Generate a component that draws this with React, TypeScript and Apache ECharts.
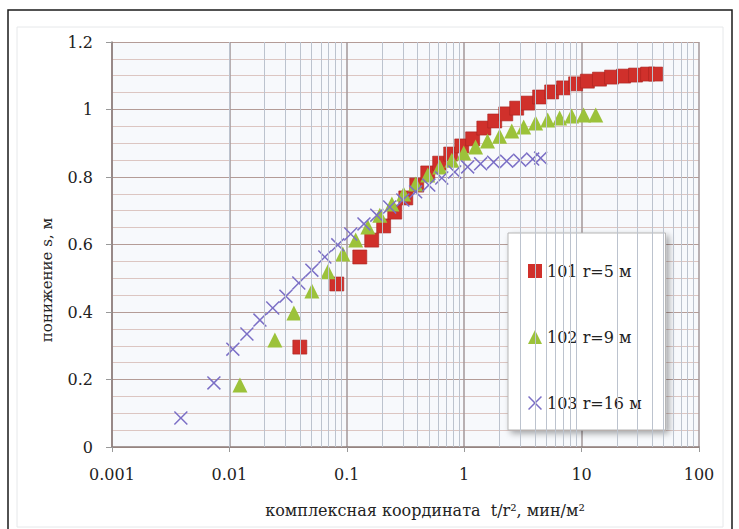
import React, { useEffect, useRef } from "react";
import * as echarts from "echarts";

const FONT = "'DejaVu Serif', 'Liberation Serif', serif";

// axis ranges
const xDecades = [0.001, 0.01, 0.1, 1, 10, 100];
const xMinorMultipliers = [2, 3, 4, 5, 6, 7, 8, 9];
const yMin = 0;
const yMax = 1.2;
const yStep = 0.2;

const seriesNames = ["101 r=5 м", "102 r=9 м", "103 r=16 м"];

// 101 r=5 m (red squares)
const s101x = [0.0398, 0.0822, 0.129, 0.163, 0.206, 0.256, 0.318, 0.394, 0.489, 0.618, 0.767, 0.953, 1.18, 1.47, 1.82, 2.26, 2.8, 3.47, 4.39, 5.56, 7.03, 8.89, 11.2, 14.2, 18.0, 22.8, 28.8, 36.5, 42.7];
const s101y = [0.296, 0.483, 0.563, 0.613, 0.655, 0.696, 0.738, 0.776, 0.812, 0.841, 0.868, 0.892, 0.913, 0.945, 0.966, 0.987, 1.004, 1.019, 1.037, 1.052, 1.064, 1.076, 1.084, 1.09, 1.096, 1.099, 1.102, 1.105, 1.105];

// 102 r=9 m (green triangles)
const s102x = [0.0123, 0.0244, 0.0354, 0.0504, 0.0689, 0.0925, 0.119, 0.151, 0.191, 0.242, 0.305, 0.386, 0.489, 0.618, 0.784, 0.991, 1.25, 1.58, 2.0, 2.54, 3.21, 4.06, 5.14, 6.5, 8.22, 10.4, 13.2];
const s102y = [0.184, 0.317, 0.397, 0.462, 0.519, 0.572, 0.613, 0.652, 0.687, 0.72, 0.75, 0.779, 0.806, 0.83, 0.85, 0.871, 0.889, 0.907, 0.921, 0.936, 0.948, 0.96, 0.969, 0.975, 0.981, 0.984, 0.984];

// 103 r=16 m (purple crosses)
const s103x = [0.00386, 0.00738, 0.0107, 0.0141, 0.0182, 0.0234, 0.0303, 0.039, 0.0504, 0.065, 0.0838, 0.108, 0.14, 0.18, 0.232, 0.3, 0.386, 0.499, 0.644, 0.83, 1.07, 1.38, 1.78, 2.3, 2.97, 3.83, 4.48];
const s103y = [0.086, 0.19, 0.29, 0.335, 0.376, 0.412, 0.447, 0.486, 0.524, 0.563, 0.599, 0.631, 0.661, 0.687, 0.711, 0.732, 0.756, 0.776, 0.797, 0.815, 0.83, 0.839, 0.844, 0.847, 0.85, 0.853, 0.856];

const zip = (xs: number[], ys: number[]) => xs.map((x, i) => [x, ys[i]]);

const CROSS =
  "path://M0,1.5L1.5,0L10,8.5L18.5,0L20,1.5L11.5,10L20,18.5L18.5,20L10,11.5L1.5,20L0,18.5L8.5,10Z";

export default function App() {
  const ref = useRef<HTMLDivElement>(null);

  useEffect(() => {
    if (!ref.current) return;
    const chart = echarts.init(ref.current, undefined, { renderer: "svg" });

    const minorLines: { xAxis: number }[] = [];
    xDecades.slice(0, -1).forEach((d) =>
      xMinorMultipliers.forEach((m) => minorLines.push({ xAxis: +(d * m).toPrecision(3) }))
    );

    chart.setOption({
      animation: false,
      backgroundColor: "#ffffff",
      textStyle: { fontFamily: FONT },
      grid: {
        left: 112,
        right: 40,
        top: 42,
        bottom: 82,
        show: true,
        backgroundColor: "#f7f9fc",
        borderWidth: 0,
      },
      graphic: [
        {
          type: "rect",
          shape: { x: 8, y: 10, width: 724, height: 540 },
          style: { fill: "none", stroke: "#1a1a1a", lineWidth: 1.5 },
          silent: true,
          z: 0,
        },
        {
          type: "rect",
          shape: { x: 17, y: 27, width: 706, height: 500 },
          style: { fill: "none", stroke: "#e6e8ea", lineWidth: 1 },
          silent: true,
          z: 0,
        },
        {
          type: "text",
          x: 47,
          y: 280,
          rotation: Math.PI / 2,
          style: {
            text: "понижение s, м",
            font: `15px ${FONT}`,
            fill: "#222",
            textAlign: "center",
            textVerticalAlign: "middle",
          },
        },
        {
          type: "text",
          x: 425,
          y: 510,
          style: {
            text: "комплексная координата  t/r², мин/м²",
            font: `16px ${FONT}`,
            fill: "#222",
            textAlign: "center",
            textVerticalAlign: "middle",
          },
        },
      ],
      legend: {
        orient: "vertical",
        left: 508,
        top: 233,
        padding: [30, 24, 19, 20],
        itemGap: 50,
        itemWidth: 14,
        itemHeight: 14,
        itemStyle: { borderWidth: 0 },
        backgroundColor: "#ffffff",
        borderColor: "#b5b5b5",
        borderWidth: 1,
        shadowColor: "rgba(0,0,0,0.35)",
        shadowBlur: 6,
        shadowOffsetX: 3,
        shadowOffsetY: 3,
        textStyle: { fontFamily: FONT, fontSize: 16, color: "#222" },
        data: seriesNames,
      },
      xAxis: {
        type: "log",
        logBase: 10,
        min: xDecades[0],
        max: xDecades[xDecades.length - 1],
        axisLine: { show: true, lineStyle: { color: "#8c7c7a", width: 1.5 } },
        axisTick: { show: true, length: 5, lineStyle: { color: "#999" } },
        axisLabel: { fontFamily: FONT, fontSize: 16, color: "#222", margin: 19 },
        splitLine: { show: true, lineStyle: { color: "#a3979a", width: 1.5 } },
        minorSplitLine: { show: false },
      },
      yAxis: {
        type: "value",
        min: yMin,
        max: yMax,
        interval: yStep,
        axisLine: { show: true, lineStyle: { color: "#8c7c7a", width: 1.5 } },
        axisTick: { show: true, length: 6, lineStyle: { color: "#999" } },
        axisLabel: { fontFamily: FONT, fontSize: 16, color: "#222", margin: 19 },
        splitLine: { show: true, lineStyle: { color: "#b49c97", width: 1.2 } },
        minorTick: { show: false, splitNumber: 4 },
        minorSplitLine: { show: true, lineStyle: { color: "#dcc6c2", width: 1 } },
      },
      series: [
        {
          name: "grid-minor",
          type: "scatter",
          data: [],
          silent: true,
          z: 1,
          markLine: {
            silent: true,
            symbol: ["none", "none"],
            label: { show: false },
            emphasis: { disabled: true },
            lineStyle: { color: "#bcc3ce", width: 1, type: "solid" },
            data: minorLines,
          },
        },
        {
          name: seriesNames[0],
          type: "scatter",
          symbol: "rect",
          symbolSize: 14,
          itemStyle: { color: "#d0302b", borderColor: "#a82420", borderWidth: 0.6, opacity: 1 },
          data: zip(s101x, s101y),
        },
        {
          name: seriesNames[1],
          type: "scatter",
          symbol: "triangle",
          symbolSize: 15,
          itemStyle: { color: "#9cc23a", opacity: 1 },
          data: zip(s102x, s102y),
        },
        {
          name: seriesNames[2],
          type: "scatter",
          symbol: CROSS,
          symbolSize: 14,
          itemStyle: { color: "#7b6fc6", opacity: 1 },
          data: zip(s103x, s103y),
        },
      ],
    });

    return () => chart.dispose();
  }, []);

  return (
    <div
      ref={ref}
      style={{ position: "absolute", left: 0, top: 0, width: 739, height: 529 }}
    />
  );
}
